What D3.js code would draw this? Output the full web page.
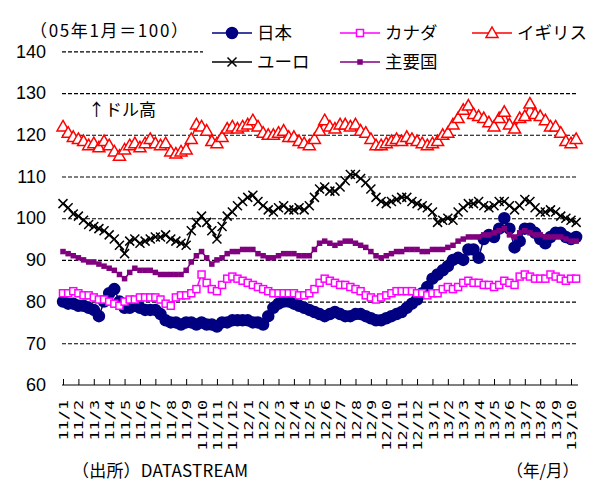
<!DOCTYPE html>
<html>
<head>
<meta charset="utf-8">
<script src="https://cdn.jsdelivr.net/npm/d3@7"></script>
<style>
  body { margin: 0; background: #fff; }
  text { font-family: "Liberation Sans", "Noto Sans CJK JP", sans-serif; }
  .jp { font-family: "Noto Sans CJK JP", sans-serif; }
</style>
</head>
<body>
<div id="chart"></div>
<script>
// month labels (x axis), 11/1 .. 13/10
const months = ['11/1','11/2','11/3','11/4','11/5','11/6','11/7','11/8','11/9','11/10','11/11','11/12',
  '12/1','12/2','12/3','12/4','12/5','12/6','12/7','12/8','12/9','12/10','12/11','12/12',
  '13/1','13/2','13/3','13/4','13/5','13/6','13/7','13/8','13/9','13/10'];
const yTicks = [60, 70, 80, 90, 100, 110, 120, 130, 140];

// three readings per month (2005/1 = 100)
const japan = [80,79.5,79.5, 79,79,78.5, 78,76.5,80, 82,83,80, 78.5,78.5,79, 78.5,78,78,
  78,77,75.5, 75,75,74.5, 75,75,74.5, 75,74.5,74.5, 74,75,75, 75.5,75.5,75.5,
  75.5,75,75, 74.5,76.5,78.5, 79.5,80,80, 79.5,79,78.5, 78,77.5,77, 76.5,77,77.5,
  77,76.5,76.5, 77,77,76.5, 76,75.5,75.5, 76,76.5,77, 77.5,78.5,79.5, 80.5,82,83.5,
  85.5,86.5,87.5, 88.5,90,90.5, 90,92.5,92.5, 90.5,95,96, 95.5,97.5,100, 97.5,93,94.5,
  97.5,97.5,96.5, 95,94,95.5, 96.5,96.5,95.5, 95,95.5];
const canada = [82,82,82.5, 82,81.5,81.5, 81,80.5,80.5, 80,79.5,79, 80,80.5,80.5, 81,81,81,
  81,80.5,79.5, 79,81,81.5, 81.5,82,83, 86.5,84.5,83, 82.5,84,85.5, 86,85.5,85,
  84.5,84,83.5, 83,82.5,82, 82,82,82, 82,81.5,81.5, 82,83,84.5, 85.5,85,84.5,
  84,84,83.5, 83,82.5,81.5, 81,80.5,81, 81.5,82,82.5, 82.5,82.5,82.5, 82,82,81.5,
  82,82,83, 83.5,83,83.5, 84.5,85,84.5, 84.5,84,84, 83.5,84,85, 84.5,84,86,
  86.5,86,85.5, 85.5,85.5,86.5, 86,85.5,85, 85.5,85.5];
const uk = [122,120.5,119.5, 119,118.5,117.5, 118,117,118.5, 117.5,116,115, 116.5,117.5,118, 117,118,119,
  118,117.5,118, 116,115.5,116, 116.5,119,122.5, 122,121,118.5, 118,119.5,121.5, 122,121.5,122,
  122.5,123.5,122, 120.5,120,120, 120.5,121,119.5, 119.5,118.5,118, 117.5,119,121, 123.5,122,121.5,
  122.5,122.5,122, 122.5,121,120.5, 119,117.5,117.5, 118,118.5,119, 118.5,119.5,119, 118.5,118,117.5,
  118,118.5,120, 120.5,122.5,124, 126,127,125, 124.5,124,123, 122,124,125.5, 122.5,121.5,124,
  124.5,127.5,125, 124.5,123.5,122, 122,120.5,118.5, 118,119];
const euro = [103.5,102.5,101, 100.5,99.5,98.5, 98,97.5,97, 96,95,93.5, 91.5,94.5,95, 94,94.5,95,
  95.5,95.5,96, 95,94.5,94, 93.5,97,99, 100.5,99,97, 95,98,100.5, 101.5,103,104,
  105,105.5,104, 103,102,101.5, 102.5,103,102, 102,102.5,102, 103,105,107, 107.5,106.5,106.5,
  107.5,109,110.5, 110.5,109.5,108.5, 107,105,104, 103.5,104,104.5, 105,105,104, 103.5,103,102.5,
  101.5,99,99.5, 100,99.5,101.5, 102.5,103.5,103.5, 104,103,102.5, 103,104,104, 103,102,103,
  104.5,104,102.5, 101.5,101.5,102, 101.5,100.5,100, 99.5,99];
const major = [92,91.5,91, 90.5,90,89.5, 89.5,89,88.5, 88,87.5,86.5, 85.5,87,88, 87.5,87.5,87.5,
  87,86.5,86.5, 86.5,86.5,86.5, 87.5,89.5,91, 92,90.5,89, 90,90.5,91.5, 92,92,92.5,
  92.5,92.5,91.5, 91,90.5,90.5, 91,91.5,91.5, 91.5,91,91, 91,92.5,94, 94.5,94,93.5,
  94,94.5,94.5, 94,93.5,93, 92,91,90.5, 91,91.5,92, 92,92.5,92.5, 92.5,92,92,
  92.5,92.5,92.5, 93,93.5,94.5, 95,95.5,95.5, 95.5,96,96, 96.5,97,97.5, 96,95.5,96.5,
  97,96.5,96, 96,95.5,95.5, 95.5,95.5,95, 94.5,94.5];

const width = 598, height = 481;
const svg = d3.select('#chart').append('svg')
  .attr('width', width)
  .attr('height', height);

const x = d3.scaleLinear().domain([0, 33]).range([63, 571]);
const y = d3.scaleLinear().domain([60, 140]).range([385, 51.4]);

// grid + y labels
const gy = svg.append('g')
  .attr('transform', 'translate(62,0)')
  .call(d3.axisLeft(y).tickValues(yTicks).tickSize(-516).tickPadding(16));
gy.select('.domain').remove();
gy.selectAll('.tick line')
  .attr('stroke', '#000')
  .attr('stroke-dasharray', '4,2')
  .attr('stroke-width', 1.1)
  .filter(d => d === 60).remove();
gy.selectAll('.tick text')
  .attr('font-size', 18)
  .attr('fill', '#000')
  .style('font-family', '"Liberation Sans", Arial, sans-serif');

// x axis
const gx = svg.append('g')
  .attr('transform', 'translate(0,385)')
  .call(d3.axisBottom(x).tickValues(d3.range(months.length))
    .tickSize(-6).tickFormat(i => months[i]));
gx.select('.domain').remove();
gx.selectAll('.tick line').attr('stroke', '#000');
// labels read bottom to top, characters stretched along the text like the original
gx.selectAll('.tick text')
  .attr('font-size', 13)
  .attr('fill', '#000')
  .attr('text-anchor', 'end')
  .attr('transform', 'rotate(-90) scale(1.3,1)')
  .attr('x', -11.5)
  .attr('y', 0)
  .attr('dy', '0.35em')
  .style('font-family', '"DejaVu Sans Mono", monospace');
svg.append('line')
  .attr('x1', 62).attr('x2', 578)
  .attr('y1', 385).attr('y2', 385)
  .attr('stroke', '#000');

// markers
const marks = {
  circle: g => g.append('circle').attr('r', 5.5),
  square: g => g.append('rect').attr('x', -3.5).attr('y', -3.5).attr('width', 7).attr('height', 7),
  tri: g => g.append('path').attr('d', 'M0,-6L6,4.5L-6,4.5Z'),
  cross: g => g.append('path').attr('d', 'M-4.5,-4.5L4.5,4.5M-4.5,4.5L4.5,-4.5'),
  dot: g => g.append('rect').attr('x', -2).attr('y', -2).attr('width', 4).attr('height', 4)
};

const series = [
  { name: '日本', values: japan, color: '#000080', mark: 'circle', fill: '#000080' },
  { name: 'カナダ', values: canada, color: '#ff00ff', mark: 'square', fill: '#fff' },
  { name: 'イギリス', values: uk, color: '#ff0000', mark: 'tri', fill: '#fff' },
  { name: 'ユーロ', values: euro, color: '#000', mark: 'cross', fill: 'none' },
  { name: '主要国', values: major, color: '#800080', mark: 'dot', fill: '#800080' }
];

const line = d3.line()
  .x((d, i) => x(i / 3))
  .y(d => y(d));

series.forEach(s => {
  const g = svg.append('g');
  g.append('path')
    .datum(s.values)
    .attr('d', line)
    .attr('fill', 'none')
    .attr('stroke', s.color)
    .attr('stroke-width', 1.5);
  g.selectAll('g.m')
    .data(s.values)
    .enter()
    .append('g')
    .attr('class', 'm')
    .attr('transform', (d, i) => 'translate(' + x(i / 3) + ',' + y(d) + ')')
    .each(function () {
      marks[s.mark](d3.select(this))
        .attr('fill', s.fill)
        .attr('stroke', s.color)
        .attr('stroke-width', 1.5);
    });
});

// legend (white box covers the top grid line)
svg.append('rect')
  .attr('x', 203).attr('y', 16)
  .attr('width', 395).attr('height', 64)
  .attr('fill', '#fff');

const legendPos = [
  { x: 212, y: 33 }, { x: 340, y: 33 }, { x: 472, y: 33 },
  { x: 212, y: 62 }, { x: 340, y: 62 }
];
series.forEach((s, i) => {
  const p = legendPos[i];
  const g = svg.append('g').attr('transform', 'translate(' + p.x + ',' + p.y + ')');
  g.append('line')
    .attr('x1', 0).attr('x2', 40)
    .attr('stroke', s.color).attr('stroke-width', 1.5);
  marks[s.mark](g.append('g').attr('transform', 'translate(20,0)'))
    .attr('fill', s.fill)
    .attr('stroke', s.color)
    .attr('stroke-width', 1.5);
  g.append('text')
    .attr('class', 'jp')
    .attr('x', 45)
    .attr('dy', '0.36em')
    .attr('font-size', 17.5)
    .text(s.name);
});

// labels
svg.append('text').attr('class', 'jp')
  .attr('x', 30).attr('y', 37).attr('font-size', 17)
  .attr('textLength', 158).attr('lengthAdjust', 'spacing')
  .text('（05年1月＝100）');
svg.append('text').attr('class', 'jp')
  .attr('x', 88).attr('y', 116).attr('font-size', 17)
  .text('↑ドル高');
svg.append('text').attr('class', 'jp')
  .attr('x', 72).attr('y', 477).attr('font-size', 17)
  .attr('textLength', 176).attr('lengthAdjust', 'spacing')
  .text('（出所）DATASTREAM');
svg.append('text').attr('class', 'jp')
  .attr('x', 579).attr('y', 477).attr('font-size', 16.5)
  .attr('text-anchor', 'end')
  .text('（年/月）');
</script>
</body>
</html>
